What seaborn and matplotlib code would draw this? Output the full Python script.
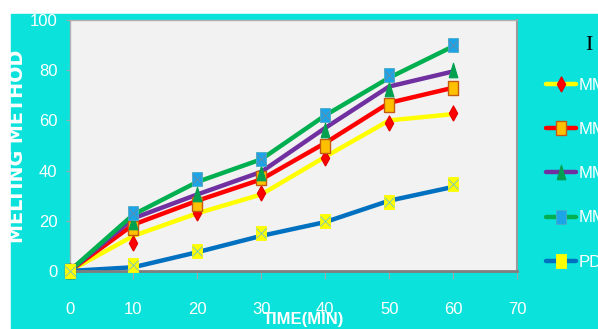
import matplotlib
matplotlib.use("Agg")
import matplotlib.pyplot as plt
import seaborn as sns
import pandas as pd
import numpy as np
from matplotlib.lines import Line2D
from matplotlib.patches import Rectangle

sns.set_theme(style="white")
plt.rcParams['font.family'] = ['Liberation Sans Narrow', 'Liberation Sans', 'DejaVu Sans']

# ---------------- data ----------------
time_min = [0, 10, 20, 30, 40, 50, 60]
series_names = ["MM1", "MM2", "MM3", "MM4", "PD"]
# marker values
mm1_mark = [0, 11, 23, 31, 45, 59, 63]
mm2_mark = [0, 17, 26.5, 37, 50, 66, 73]
mm3_mark = [0, 19.5, 30.5, 39, 56, 72.5, 80]
mm4_mark = [0, 23, 36.5, 44.5, 62, 78, 90]
pd_mark = [0, 2.5, 8, 15, 20, 27.5, 34.5]
# smoothed line values (as drawn)
mm1_line = [0, 14, 23, 30.5, 45.5, 60, 62.5]
mm2_line = [0, 18.5, 28, 36.5, 51, 67, 73]
mm3_line = [0, 21, 30.5, 39.5, 57, 73.5, 79.5]
mm4_line = [0, 22.5, 35.5, 44.5, 62, 77, 89.5]
pd_line = [0, 1.5, 7.5, 14, 19.5, 28, 33.5]
x_ticks = [0, 10, 20, 30, 40, 50, 60, 70]
y_ticks = [0, 20, 40, 60, 80, 100]

marks = [mm1_mark, mm2_mark, mm3_mark, mm4_mark, pd_mark]
lines = [mm1_line, mm2_line, mm3_line, mm4_line, pd_line]

# ---------------- style ----------------
line_colors = ["#FFFF00", "#FF0000", "#7030A0", "#00B050", "#0070C0"]
rect = [(-0.7, -1), (0.7, -1), (0.7, 1), (-0.7, 1), (-0.7, -1)]
tri = [(-0.6, -1), (0.6, -1), (0, 1), (-0.6, -1)]
dia = [(0, -1), (0.55, 0), (0, 1), (-0.55, 0), (0, -1)]
mk_styles = [
    dict(marker=dia, ms=11, mfc="#FF0000", mec="#E00000", mew=0.8),
    dict(marker=rect, ms=10.5, mfc="#FFC000", mec="#C55A11", mew=1.0),
    dict(marker=tri, ms=10.5, mfc="#00A050", mec="#00A050", mew=0.8),
    dict(marker=rect, ms=10.5, mfc="#1CA4E8", mec="#4BACC6", mew=0.6),
    dict(marker=rect, ms=10.5, mfc="#FFFF00", mec="#FFFF00", mew=0.6),
]
cross_color = ["none", "none", "none", "#5B8FB0", "#7FC8B8"]

W, H = 598, 329
fig = plt.figure(figsize=(W / 100, H / 100), dpi=100, facecolor="white")
fig.patches.append(Rectangle((11 / W, 0), 1 - 11 / W, 1 - 14 / H,
                             transform=fig.transFigure, color="#0BE2DC", zorder=-5))

ax = fig.add_axes([69.5 / W, 1 - 271 / H, (517 - 69.5) / W, (271 - 20) / H])
ax.set_facecolor("#F2F2F2")
ax.set_zorder(1)

df = pd.DataFrame({
    "time": np.tile(time_min, len(series_names)),
    "value": np.concatenate(lines),
    "series": np.repeat(series_names, len(time_min)),
})
order_draw = ["PD", "MM1", "MM2", "MM3", "MM4"]
for name in order_draw:
    i = series_names.index(name)
    sns.lineplot(data=df[df.series == name], x="time", y="value", ax=ax,
                 color=line_colors[i], lw=3.2, legend=False, zorder=2 + i * 0.1,
                 clip_on=False)

for name in order_draw:
    i = series_names.index(name)
    ax.plot(time_min, marks[i], ls="none", zorder=5 + i * 0.1, clip_on=False, **mk_styles[i])
    if cross_color[i] != "none":
        ax.plot(time_min, marks[i], ls="none", marker="x", ms=7, mew=0.7,
                color=cross_color[i], zorder=5.05 + i * 0.1, clip_on=False)

ax.set_xlim(0, 70)
ax.set_ylim(0, 100)
ax.set_xticks(x_ticks)
ax.set_yticks(y_ticks)
ax.set_xlabel("")
ax.set_ylabel("")
ax.tick_params(axis="x", direction="out", length=6, width=0.8, color="#A6A6A6",
               pad=16, labelcolor="white", labelsize=12, bottom=True)
ax.tick_params(axis="y", direction="out", length=3.2, width=0.8, color="#A6A6A6",
               pad=5.5, labelcolor="white", labelsize=12, left=True)
for s in ["top", "left", "right"]:
    ax.spines[s].set_color("#B0B0B0")
    ax.spines[s].set_linewidth(1.0)
ax.spines["bottom"].set_color("#7F7F7F")
ax.spines["bottom"].set_linewidth(2.0)
ax.spines["right"].set_color("#9A9A9A")
ax.spines["right"].set_linewidth(1.5)

fig.text(18 / W, 1 - 146 / H, "MELTING METHOD", rotation=90, ha="center", va="center",
         color="white", fontsize=13.8, fontweight="bold", family=["DejaVu Sans"])
fig.text(263 / W, 1 - 312 / H, "TIME(MIN)", ha="left", va="top", color="white",
         fontsize=12, fontweight="bold", zorder=3)
fig.text(589 / W, 1 - 46 / H, "I", ha="center", va="center", color="black",
         fontsize=16, family=["Liberation Serif", "DejaVu Serif"])

handles = []
for i in range(len(series_names)):
    handles.append(Line2D([0], [0], color=line_colors[i], lw=3.2, **mk_styles[i]))
leg = ax.legend(handles, series_names, loc="upper left",
                bbox_to_anchor=(546 / W, 1 - 78 / H), bbox_transform=fig.transFigure,
                frameon=False, fontsize=12, handlelength=1.8, handletextpad=0.15,
                labelspacing=1.75, borderpad=0, borderaxespad=0)
for t in leg.get_texts():
    t.set_color("white")

fig.savefig("out.png", dpi=100, facecolor="white")
